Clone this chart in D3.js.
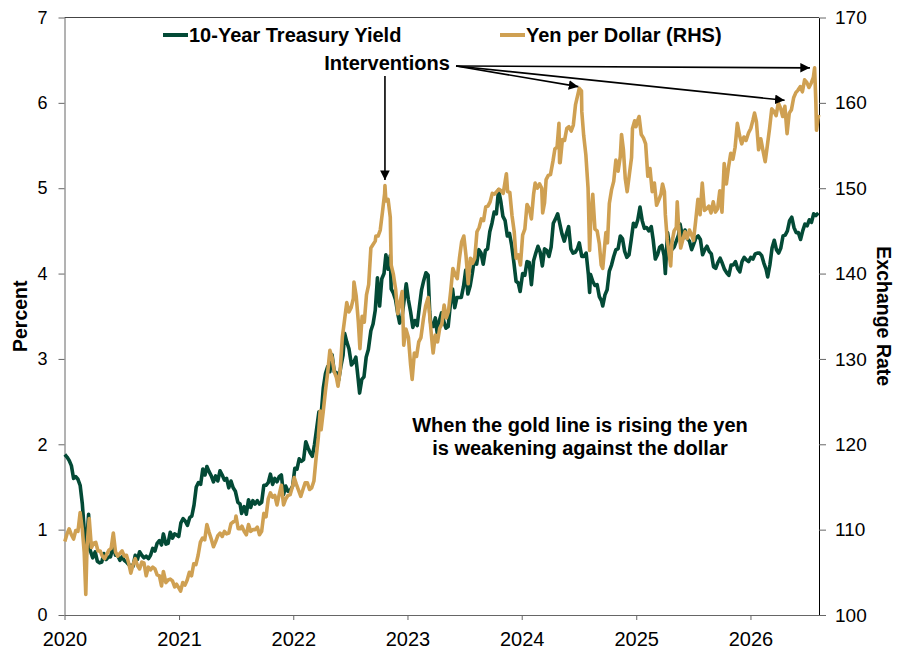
<!DOCTYPE html>
<html>
<head>
<meta charset="utf-8">
<script src="https://cdn.jsdelivr.net/npm/d3@7"></script>
<style>
  body { margin: 0; background: #fff; }
  text { font-family: "Liberation Sans", Arial, sans-serif; }
</style>
</head>
<body>
<svg id="chart" width="900" height="654"></svg>
<script>
// 10-Year Treasury Yield, percent (left axis)
const yieldSeries = [
  ["2020-01-02",1.88],["2020-01-09",1.85],["2020-01-16",1.81],["2020-01-23",1.75],["2020-01-30",1.60],
  ["2020-02-06",1.62],["2020-02-13",1.59],["2020-02-20",1.52],["2020-02-27",1.30],["2020-03-04",1.00],
  ["2020-03-09",0.55],["2020-03-12",0.85],["2020-03-18",1.18],["2020-03-23",0.76],["2020-03-31",0.67],
  ["2020-04-08",0.74],["2020-04-15",0.63],["2020-04-22",0.61],["2020-04-29",0.62],["2020-05-06",0.72],
  ["2020-05-13",0.65],["2020-05-20",0.68],["2020-05-27",0.68],["2020-06-05",0.82],["2020-06-12",0.70],
  ["2020-06-19",0.70],["2020-06-26",0.64],["2020-07-03",0.68],["2020-07-10",0.64],["2020-07-17",0.62],
  ["2020-07-24",0.59],["2020-07-31",0.58],["2020-08-07",0.57],["2020-08-14",0.70],["2020-08-21",0.65],
  ["2020-08-28",0.74],["2020-09-04",0.70],["2020-09-11",0.67],["2020-09-18",0.69],["2020-09-25",0.66],
  ["2020-10-02",0.70],["2020-10-09",0.78],["2020-10-16",0.75],["2020-10-23",0.84],["2020-10-30",0.87],
  ["2020-11-06",0.82],["2020-11-12",0.95],["2020-11-20",0.83],["2020-11-27",0.84],["2020-12-04",0.97],
  ["2020-12-11",0.90],["2020-12-18",0.95],["2020-12-24",0.94],["2020-12-31",0.92],
  ["2021-01-07",1.08],["2021-01-14",1.13],["2021-01-21",1.10],["2021-01-28",1.05],["2021-02-04",1.14],
  ["2021-02-11",1.16],["2021-02-18",1.29],["2021-02-25",1.50],["2021-03-04",1.55],["2021-03-11",1.53],
  ["2021-03-18",1.71],["2021-03-25",1.64],["2021-03-31",1.74],["2021-04-07",1.68],["2021-04-14",1.63],
  ["2021-04-21",1.56],["2021-04-28",1.63],["2021-05-05",1.57],["2021-05-12",1.69],["2021-05-19",1.64],
  ["2021-05-26",1.58],["2021-06-02",1.60],["2021-06-09",1.49],["2021-06-16",1.57],["2021-06-23",1.49],
  ["2021-06-30",1.45],["2021-07-08",1.32],["2021-07-15",1.30],["2021-07-20",1.19],["2021-07-28",1.27],
  ["2021-08-04",1.18],["2021-08-11",1.35],["2021-08-18",1.26],["2021-08-25",1.34],["2021-09-01",1.30],
  ["2021-09-08",1.34],["2021-09-15",1.30],["2021-09-22",1.32],["2021-09-29",1.52],["2021-10-06",1.52],
  ["2021-10-13",1.55],["2021-10-20",1.65],["2021-10-27",1.53],["2021-11-03",1.60],["2021-11-10",1.56],
  ["2021-11-17",1.62],["2021-11-24",1.64],["2021-12-01",1.41],["2021-12-08",1.51],["2021-12-15",1.45],
  ["2021-12-22",1.46],["2021-12-30",1.51],
  ["2022-01-06",1.72],["2022-01-13",1.71],["2022-01-20",1.83],["2022-01-27",1.80],["2022-02-03",1.82],
  ["2022-02-10",2.03],["2022-02-17",1.96],["2022-02-24",1.90],["2022-03-03",1.86],["2022-03-10",2.00],
  ["2022-03-17",2.19],["2022-03-24",2.38],["2022-03-31",2.34],["2022-04-07",2.66],["2022-04-14",2.83],
  ["2022-04-21",2.91],["2022-04-28",2.85],["2022-05-05",3.05],["2022-05-12",2.85],["2022-05-19",2.84],
  ["2022-05-26",2.75],["2022-06-02",2.91],["2022-06-09",3.04],["2022-06-14",3.30],["2022-06-21",3.20],
  ["2022-06-28",3.12],["2022-07-06",2.93],["2022-07-13",2.96],["2022-07-20",3.02],["2022-07-27",2.78],
  ["2022-08-01",2.60],["2022-08-08",2.76],["2022-08-15",2.79],["2022-08-22",3.02],["2022-08-29",3.11],
  ["2022-09-06",3.33],["2022-09-13",3.41],["2022-09-20",3.57],["2022-09-27",3.95],["2022-10-04",3.62],
  ["2022-10-11",3.94],["2022-10-18",4.00],["2022-10-24",4.22],["2022-10-31",4.05],["2022-11-07",4.21],
  ["2022-11-10",3.82],["2022-11-17",3.77],["2022-11-24",3.69],["2022-12-01",3.53],["2022-12-07",3.42],
  ["2022-12-14",3.48],["2022-12-21",3.68],["2022-12-28",3.88],
  ["2023-01-04",3.69],["2023-01-11",3.55],["2023-01-18",3.37],["2023-01-25",3.45],["2023-02-01",3.39],
  ["2023-02-08",3.61],["2023-02-15",3.81],["2023-02-22",3.92],["2023-03-01",4.01],["2023-03-08",3.98],
  ["2023-03-13",3.55],["2023-03-17",3.39],["2023-03-24",3.38],["2023-03-31",3.48],["2023-04-06",3.30],
  ["2023-04-13",3.45],["2023-04-20",3.54],["2023-04-27",3.44],["2023-05-04",3.36],["2023-05-11",3.38],
  ["2023-05-18",3.64],["2023-05-25",3.82],["2023-06-01",3.60],["2023-06-08",3.72],["2023-06-15",3.72],
  ["2023-06-22",3.72],["2023-06-29",3.85],["2023-07-06",4.04],["2023-07-13",3.76],["2023-07-20",3.85],
  ["2023-07-27",4.00],["2023-08-03",4.18],["2023-08-10",4.11],["2023-08-17",4.28],["2023-08-24",4.24],
  ["2023-08-31",4.11],["2023-09-07",4.27],["2023-09-14",4.29],["2023-09-21",4.49],["2023-09-28",4.59],
  ["2023-10-05",4.72],["2023-10-12",4.70],["2023-10-19",4.98],["2023-10-26",4.85],["2023-11-02",4.67],
  ["2023-11-09",4.62],["2023-11-16",4.44],["2023-11-23",4.47],["2023-11-30",4.33],["2023-12-07",4.13],
  ["2023-12-14",3.91],["2023-12-21",3.89],["2023-12-27",3.79],
  ["2024-01-04",4.00],["2024-01-11",3.98],["2024-01-18",4.14],["2024-01-25",4.13],["2024-02-01",3.87],
  ["2024-02-08",4.15],["2024-02-15",4.24],["2024-02-22",4.32],["2024-02-29",4.25],["2024-03-07",4.09],
  ["2024-03-14",4.29],["2024-03-21",4.27],["2024-03-28",4.20],["2024-04-04",4.31],["2024-04-11",4.59],
  ["2024-04-18",4.64],["2024-04-25",4.70],["2024-05-02",4.58],["2024-05-09",4.46],["2024-05-16",4.38],
  ["2024-05-23",4.47],["2024-05-30",4.55],["2024-06-06",4.29],["2024-06-13",4.24],["2024-06-20",4.25],
  ["2024-06-27",4.29],["2024-07-03",4.36],["2024-07-11",4.20],["2024-07-18",4.20],["2024-07-25",4.24],
  ["2024-08-01",3.99],["2024-08-05",3.78],["2024-08-08",3.99],["2024-08-15",3.91],["2024-08-22",3.86],
  ["2024-08-29",3.87],["2024-09-05",3.73],["2024-09-12",3.68],["2024-09-16",3.62],["2024-09-23",3.75],
  ["2024-09-30",3.81],["2024-10-07",4.03],["2024-10-14",4.10],["2024-10-21",4.20],["2024-10-28",4.28],
  ["2024-11-04",4.29],["2024-11-11",4.44],["2024-11-18",4.41],["2024-11-25",4.26],["2024-12-02",4.19],
  ["2024-12-09",4.22],["2024-12-16",4.40],["2024-12-23",4.59],["2024-12-30",4.55],
  ["2025-01-06",4.63],["2025-01-13",4.78],["2025-01-20",4.62],["2025-01-27",4.53],["2025-02-03",4.54],
  ["2025-02-10",4.50],["2025-02-18",4.55],["2025-02-24",4.40],["2025-03-03",4.17],["2025-03-10",4.22],
  ["2025-03-17",4.31],["2025-03-24",4.33],["2025-03-31",4.21],["2025-04-04",4.00],["2025-04-11",4.48],
  ["2025-04-18",4.32],["2025-04-25",4.28],["2025-05-02",4.31],["2025-05-09",4.38],["2025-05-16",4.45],
  ["2025-05-21",4.58],["2025-05-30",4.41],["2025-06-06",4.51],["2025-06-13",4.41],["2025-06-20",4.38],
  ["2025-06-27",4.28],["2025-07-03",4.34],["2025-07-11",4.42],["2025-07-18",4.44],["2025-07-25",4.40],
  ["2025-08-01",4.22],["2025-08-08",4.28],["2025-08-15",4.32],["2025-08-22",4.26],["2025-08-29",4.23],
  ["2025-09-05",4.08],["2025-09-12",4.06],["2025-09-19",4.13],["2025-09-26",4.18],["2025-10-03",4.12],
  ["2025-10-10",4.05],["2025-10-17",4.01],["2025-10-24",3.98],["2025-10-31",4.10],["2025-11-07",4.10],
  ["2025-11-14",4.14],["2025-11-21",4.06],["2025-11-28",4.02],["2025-12-05",4.14],["2025-12-12",4.19],
  ["2025-12-19",4.16],["2025-12-26",4.14],
  ["2026-01-02",4.19],["2026-01-09",4.17],["2026-01-16",4.23],["2026-01-23",4.24],["2026-01-30",4.24],
  ["2026-02-06",4.21],["2026-02-13",4.12],["2026-02-20",4.05],["2026-02-25",3.96],["2026-03-04",4.10],
  ["2026-03-11",4.30],["2026-03-18",4.39],["2026-03-25",4.28],["2026-04-01",4.24],["2026-04-08",4.30],
  ["2026-04-15",4.44],["2026-04-22",4.45],["2026-04-29",4.50],["2026-05-06",4.62],["2026-05-13",4.66],
  ["2026-05-20",4.54],["2026-05-27",4.48],["2026-06-03",4.48],["2026-06-10",4.40],["2026-06-17",4.50],
  ["2026-06-24",4.58],["2026-07-01",4.56],["2026-07-08",4.63],["2026-07-15",4.60],["2026-07-22",4.70],
  ["2026-07-29",4.68],["2026-08-06",4.71]
];

// Yen per Dollar (right axis)
const yenSeries = [
  ["2020-01-02",108.6],["2020-01-09",109.5],["2020-01-16",110.1],["2020-01-23",109.4],["2020-01-30",108.9],
  ["2020-02-06",109.9],["2020-02-13",109.8],["2020-02-20",112.0],["2020-02-27",110.0],["2020-03-04",107.3],
  ["2020-03-09",102.4],["2020-03-13",108.0],["2020-03-20",111.3],["2020-03-27",107.9],["2020-04-03",108.4],
  ["2020-04-10",108.5],["2020-04-17",107.5],["2020-04-24",107.5],["2020-05-01",106.9],["2020-05-08",106.6],
  ["2020-05-15",107.1],["2020-05-22",107.6],["2020-05-29",107.8],["2020-06-05",109.6],["2020-06-12",107.4],
  ["2020-06-19",106.9],["2020-06-26",107.2],["2020-07-03",107.5],["2020-07-10",106.9],["2020-07-17",107.0],
  ["2020-07-24",106.1],["2020-07-31",104.9],["2020-08-07",105.9],["2020-08-14",106.6],["2020-08-21",105.8],
  ["2020-08-28",105.4],["2020-09-04",106.2],["2020-09-11",106.1],["2020-09-18",104.6],["2020-09-25",105.6],
  ["2020-10-02",105.3],["2020-10-09",105.6],["2020-10-16",105.4],["2020-10-23",104.7],["2020-10-30",104.6],
  ["2020-11-06",103.4],["2020-11-12",105.1],["2020-11-20",103.8],["2020-11-27",104.1],["2020-12-04",104.2],
  ["2020-12-11",104.0],["2020-12-18",103.3],["2020-12-24",103.6],["2020-12-31",103.2],
  ["2021-01-06",102.8],["2021-01-13",103.8],["2021-01-20",103.5],["2021-01-27",104.1],["2021-02-03",105.0],
  ["2021-02-10",104.6],["2021-02-17",106.0],["2021-02-24",105.9],["2021-03-03",107.0],["2021-03-10",108.5],
  ["2021-03-17",109.0],["2021-03-24",108.8],["2021-03-31",110.6],["2021-04-07",109.7],["2021-04-14",108.9],
  ["2021-04-21",108.0],["2021-04-28",108.6],["2021-05-05",109.3],["2021-05-12",109.6],["2021-05-19",109.2],
  ["2021-05-26",109.8],["2021-06-02",109.5],["2021-06-09",109.6],["2021-06-16",110.7],["2021-06-23",110.9],
  ["2021-06-30",111.1],["2021-07-02",111.6],["2021-07-09",110.1],["2021-07-16",110.1],["2021-07-21",110.4],
  ["2021-07-28",109.8],["2021-08-04",109.4],["2021-08-11",110.6],["2021-08-18",109.8],["2021-08-25",110.0],
  ["2021-09-01",110.0],["2021-09-08",110.3],["2021-09-15",109.4],["2021-09-22",109.8],["2021-09-29",111.9],
  ["2021-10-06",111.5],["2021-10-13",113.6],["2021-10-20",114.3],["2021-10-27",113.8],["2021-11-03",114.0],
  ["2021-11-10",112.9],["2021-11-17",114.1],["2021-11-24",115.2],["2021-12-01",112.9],["2021-12-08",113.6],
  ["2021-12-15",114.0],["2021-12-22",114.1],["2021-12-30",115.1],
  ["2022-01-04",116.1],["2022-01-11",115.3],["2022-01-18",114.6],["2022-01-25",113.9],["2022-02-01",114.7],
  ["2022-02-08",115.5],["2022-02-15",115.5],["2022-02-22",114.7],["2022-03-01",114.9],["2022-03-08",115.7],
  ["2022-03-15",118.4],["2022-03-22",120.8],["2022-03-28",123.9],["2022-03-31",121.7],["2022-04-07",123.9],
  ["2022-04-14",126.3],["2022-04-21",128.4],["2022-04-28",131.0],["2022-05-05",130.2],["2022-05-12",128.5],
  ["2022-05-19",127.8],["2022-05-24",126.8],["2022-05-31",128.7],["2022-06-07",132.6],["2022-06-14",134.6],
  ["2022-06-21",136.6],["2022-06-28",135.5],["2022-07-05",136.0],["2022-07-12",137.1],["2022-07-14",139.0],
  ["2022-07-21",137.4],["2022-07-28",134.3],["2022-08-02",131.2],["2022-08-09",135.0],["2022-08-16",134.3],
  ["2022-08-23",137.5],["2022-08-30",138.7],["2022-09-06",143.0],["2022-09-13",143.4],["2022-09-20",143.8],
  ["2022-09-22",144.4],["2022-09-29",144.4],["2022-10-06",145.1],["2022-10-13",147.2],["2022-10-20",149.4],
  ["2022-10-21",150.3],["2022-10-24",148.5],["2022-10-31",148.7],["2022-11-07",146.6],["2022-11-10",141.0],
  ["2022-11-17",139.9],["2022-11-24",138.2],["2022-12-01",135.3],["2022-12-08",136.6],["2022-12-15",137.9],
  ["2022-12-20",131.6],["2022-12-27",133.5],
  ["2023-01-04",132.5],["2023-01-11",129.3],["2023-01-16",127.6],["2023-01-23",130.7],["2023-01-30",130.3],
  ["2023-02-06",132.0],["2023-02-13",132.5],["2023-02-21",134.7],["2023-02-28",136.2],["2023-03-08",137.2],
  ["2023-03-15",134.2],["2023-03-22",131.4],["2023-03-24",130.7],["2023-03-31",132.8],["2023-04-07",132.0],
  ["2023-04-14",133.6],["2023-04-21",134.1],["2023-04-28",136.3],["2023-05-05",134.8],["2023-05-12",135.6],
  ["2023-05-19",137.9],["2023-05-26",140.6],["2023-06-02",139.9],["2023-06-09",139.4],["2023-06-16",141.8],
  ["2023-06-23",143.7],["2023-06-30",144.4],["2023-07-07",142.1],["2023-07-14",138.8],["2023-07-21",141.8],
  ["2023-07-28",141.2],["2023-08-04",141.8],["2023-08-11",144.9],["2023-08-18",145.4],["2023-08-25",146.4],
  ["2023-09-01",146.2],["2023-09-08",147.8],["2023-09-15",147.9],["2023-09-22",148.4],["2023-09-29",149.4],
  ["2023-10-06",149.3],["2023-10-13",149.6],["2023-10-20",149.9],["2023-10-27",149.7],["2023-11-03",149.4],
  ["2023-11-13",151.7],["2023-11-17",149.6],["2023-11-24",149.5],["2023-12-01",146.8],["2023-12-08",144.9],
  ["2023-12-14",141.8],["2023-12-21",142.2],["2023-12-28",141.0],
  ["2024-01-04",144.5],["2024-01-11",145.2],["2024-01-18",148.1],["2024-01-25",147.6],["2024-02-01",146.4],
  ["2024-02-08",149.3],["2024-02-13",150.6],["2024-02-20",150.0],["2024-02-27",150.5],["2024-03-05",150.0],
  ["2024-03-08",147.1],["2024-03-14",148.3],["2024-03-19",151.0],["2024-03-26",151.5],["2024-04-02",151.6],
  ["2024-04-10",153.2],["2024-04-16",154.6],["2024-04-23",154.8],["2024-04-29",157.6],["2024-05-01",153.0],
  ["2024-05-03",153.0],["2024-05-10",155.7],["2024-05-17",155.6],["2024-05-24",157.0],["2024-05-31",157.2],
  ["2024-06-07",156.7],["2024-06-14",157.4],["2024-06-21",159.8],["2024-06-28",160.9],["2024-07-03",161.7],
  ["2024-07-10",161.4],["2024-07-11",159.0],["2024-07-17",156.2],["2024-07-24",153.9],["2024-07-31",150.0],
  ["2024-08-05",142.7],["2024-08-09",146.6],["2024-08-15",149.3],["2024-08-22",145.2],["2024-08-29",145.0],
  ["2024-09-05",143.5],["2024-09-11",141.0],["2024-09-16",140.6],["2024-09-23",143.6],["2024-09-26",144.8],
  ["2024-10-01",143.6],["2024-10-07",148.2],["2024-10-14",149.8],["2024-10-21",150.8],["2024-10-28",153.3],
  ["2024-11-04",152.0],["2024-11-11",153.7],["2024-11-15",156.3],["2024-11-21",154.5],["2024-11-27",151.1],
  ["2024-12-03",149.6],["2024-12-10",151.6],["2024-12-17",153.6],["2024-12-20",157.0],["2024-12-27",157.9],
  ["2024-12-31",157.2],
  ["2025-01-07",158.1],["2025-01-10",158.4],["2025-01-17",156.3],["2025-01-24",155.9],["2025-01-31",155.2],
  ["2025-02-07",151.4],["2025-02-14",152.3],["2025-02-21",149.6],["2025-02-28",150.6],["2025-03-07",148.0],
  ["2025-03-14",148.6],["2025-03-21",149.3],["2025-03-26",150.5],["2025-04-01",149.6],["2025-04-04",146.9],
  ["2025-04-10",144.0],["2025-04-21",140.9],["2025-04-25",143.6],["2025-05-02",145.0],["2025-05-09",145.4],
  ["2025-05-12",148.4],["2025-05-16",145.7],["2025-05-23",143.0],["2025-05-30",144.0],["2025-06-06",144.9],
  ["2025-06-13",144.1],["2025-06-20",145.1],["2025-06-27",144.5],["2025-07-03",143.9],["2025-07-10",146.2],
  ["2025-07-17",148.7],["2025-07-24",146.9],["2025-07-31",150.6],["2025-08-07",147.4],["2025-08-14",147.6],
  ["2025-08-21",147.9],["2025-08-28",147.1],["2025-09-04",148.4],["2025-09-11",147.2],["2025-09-18",147.6],
  ["2025-09-25",149.7],["2025-10-02",147.2],["2025-10-09",152.9],["2025-10-16",150.5],["2025-10-23",152.5],
  ["2025-10-30",154.1],["2025-11-06",153.4],["2025-11-13",154.8],["2025-11-20",157.6],["2025-11-27",156.2],
  ["2025-12-04",155.2],["2025-12-11",156.0],["2025-12-18",155.6],["2025-12-26",156.5],
  ["2026-01-02",157.0],["2026-01-09",158.0],["2026-01-14",158.8],["2026-01-20",157.8],["2026-01-27",154.5],
  ["2026-02-03",155.8],["2026-02-10",154.4],["2026-02-17",153.1],["2026-02-24",155.0],["2026-03-03",157.0],
  ["2026-03-10",159.3],["2026-03-17",159.0],["2026-03-24",158.5],["2026-03-31",160.0],["2026-04-07",159.4],
  ["2026-04-14",158.4],["2026-04-21",159.6],["2026-04-28",156.4],["2026-05-05",158.8],["2026-05-12",159.2],
  ["2026-05-19",160.6],["2026-05-26",161.2],["2026-06-02",161.5],["2026-06-09",161.9],["2026-06-16",161.3],
  ["2026-06-23",162.7],["2026-06-30",162.4],["2026-07-07",161.8],["2026-07-14",162.3],["2026-07-21",163.0],
  ["2026-07-25",164.1],["2026-07-29",160.0],["2026-07-31",156.8],["2026-08-04",158.0],["2026-08-07",158.6]
];

// arrow tips for the "Interventions" note (date, yen)
const interventions = [
  ["2022-10-21",150.6],
  ["2024-06-30",161.9],
  ["2026-04-20",160.3],
  ["2026-07-10",164.1]
];

const yearTicks = ["2020","2021","2022","2023","2024","2025","2026"];
const leftTicks = [0,1,2,3,4,5,6,7];
const rightTicks = [100,110,120,130,140,150,160,170];

const green = "#034a36", gold = "#cfa052";
const parse = d3.timeParse("%Y-%m-%d");

const margin = {top: 17.5, right: 81, bottom: 39, left: 64.5};
const width = 900, height = 654;

const svg = d3.select("#chart");

const x = d3.scaleTime()
    .domain([new Date(2020, 0, 1), new Date(2026, 7, 8)])
    .range([margin.left, width - margin.right]);
const yL = d3.scaleLinear().domain([0, 7]).range([height - margin.bottom, margin.top]);
const yR = d3.scaleLinear().domain([100, 170]).range([height - margin.bottom, margin.top]);

// axes
const xAxis = svg.append("g")
    .attr("transform", `translate(0,${height - margin.bottom})`)
    .call(d3.axisBottom(x)
        .tickValues(yearTicks.map(y => d3.timeParse("%Y")(y)))
        .tickFormat(d3.timeFormat("%Y"))
        .tickSize(5).tickSizeOuter(0).tickPadding(12));

const leftAxis = svg.append("g")
    .attr("transform", `translate(${margin.left},0)`)
    .call(d3.axisLeft(yL).tickValues(leftTicks).tickFormat(d3.format("d"))
        .tickSize(6).tickSizeOuter(0).tickPadding(11));

const rightAxis = svg.append("g")
    .attr("transform", `translate(${width - margin.right},0)`)
    .call(d3.axisRight(yR).tickValues(rightTicks).tickFormat(d3.format("d"))
        .tickSize(7).tickSizeOuter(0).tickPadding(9));

[xAxis, leftAxis, rightAxis].forEach(g => {
  g.selectAll("text").attr("fill", "#000")
      .style("font-family", "'Liberation Sans', Arial, sans-serif");
  g.selectAll("line").attr("stroke", "#666");
  g.select(".domain").attr("stroke", "#666");
});
xAxis.selectAll("text").attr("font-size", 20);
leftAxis.selectAll("text").attr("font-size", 18);
rightAxis.selectAll("text").attr("font-size", 19);
rightAxis.select(".domain").attr("stroke", "#000");

// top border
svg.append("line")
    .attr("x1", margin.left).attr("x2", width - margin.right)
    .attr("y1", margin.top).attr("y2", margin.top)
    .attr("stroke", "#444");

// axis titles
svg.append("text")
    .attr("transform", `translate(27,${(margin.top + height - margin.bottom) / 2}) rotate(-90)`)
    .attr("text-anchor", "middle")
    .attr("font-size", 19.5).attr("font-weight", "bold")
    .text("Percent");

svg.append("text")
    .attr("transform", `translate(877,${(margin.top + height - margin.bottom) / 2}) rotate(90)`)
    .attr("text-anchor", "middle")
    .attr("font-size", 19.5).attr("font-weight", "bold")
    .text("Exchange Rate");

// lines
const lineL = d3.line().x(d => x(parse(d[0]))).y(d => yL(d[1]));
const lineR = d3.line().x(d => x(parse(d[0]))).y(d => yR(d[1]));

svg.append("path")
    .datum(yieldSeries)
    .attr("d", lineL)
    .attr("fill", "none").attr("stroke", green)
    .attr("stroke-width", 3.6).attr("stroke-linejoin", "round");

svg.append("path")
    .datum(yenSeries)
    .attr("d", lineR)
    .attr("fill", "none").attr("stroke", gold)
    .attr("stroke-width", 3.6).attr("stroke-linejoin", "round");

// legend
const legend = [
  {label: "10-Year Treasury Yield", color: green, x: 163},
  {label: "Yen per Dollar (RHS)", color: gold, x: 500}
];
legend.forEach(l => {
  svg.append("line")
      .attr("x1", l.x).attr("x2", l.x + 25)
      .attr("y1", 35).attr("y2", 35)
      .attr("stroke", l.color).attr("stroke-width", 4);
  svg.append("text")
      .attr("x", l.x + 26).attr("y", 42)
      .attr("font-size", 20).attr("font-weight", "bold")
      .text(l.label);
});

// interventions note
svg.append("defs").append("marker")
    .attr("id", "arrow")
    .attr("viewBox", "0 0 10 10")
    .attr("refX", 10).attr("refY", 5)
    .attr("markerWidth", 6).attr("markerHeight", 6)
    .attr("markerUnits", "strokeWidth")
    .attr("orient", "auto")
  .append("path")
    .attr("d", "M0,0 L10,5 L0,10 z")
    .attr("fill", "#000");

svg.append("text")
    .attr("x", 387).attr("y", 70)
    .attr("text-anchor", "middle")
    .attr("font-size", 20).attr("font-weight", "bold")
    .text("Interventions");

interventions.forEach((d, i) => {
  const tx = x(parse(d[0])), ty = yR(d[1]);
  const start = i === 0 ? [tx, 76] : [456, 66];
  svg.append("line")
      .attr("x1", start[0]).attr("y1", start[1])
      .attr("x2", tx).attr("y2", i === 0 ? ty - 3 : ty)
      .attr("stroke", "#000").attr("stroke-width", 1.6)
      .attr("marker-end", "url(#arrow)");
});

// side note
const note = svg.append("text")
    .attr("x", 580).attr("y", 432)
    .attr("text-anchor", "middle")
    .attr("font-size", 20).attr("font-weight", "bold");
note.append("tspan").attr("x", 580).text("When the gold line is rising the yen");
note.append("tspan").attr("x", 580).attr("dy", 23).text("is weakening against the dollar");
</script>
</body>
</html>
